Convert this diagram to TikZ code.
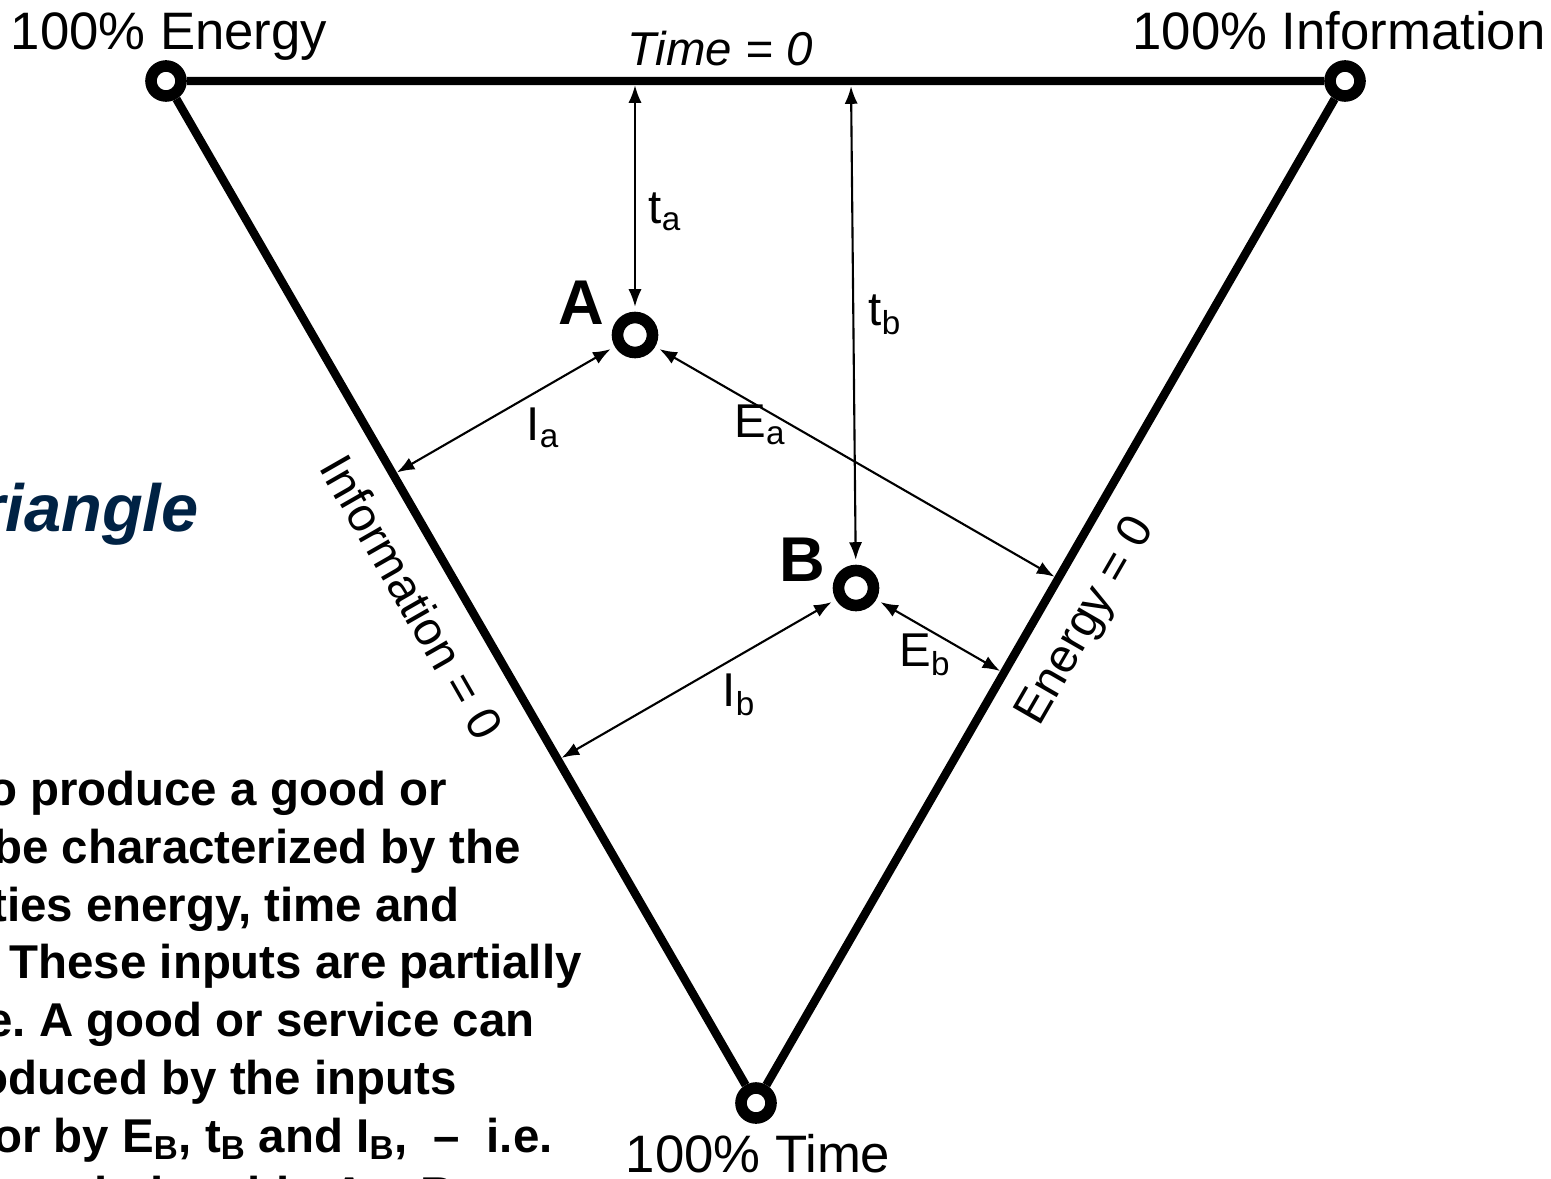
\documentclass[tikz,border=0pt]{standalone}
\usepackage{fontspec}
\setmainfont{Liberation Sans}
\usepackage{xcolor}
\usetikzlibrary{arrows.meta,calc}

\definecolor{navy}{RGB}{0,34,68}

\tikzset{
  corner/.style={circle, draw, line width=6.6pt, fill=white, minimum size=0.6cm, inner sep=0pt},
  point/.style={circle, draw, line width=6.6pt, fill=white, minimum size=0.7cm, inner sep=0pt},
  side/.style={line width=4.8pt},
  dist/.style={<->, line width=1.2pt, >={Latex[length=10pt,width=7.5pt]}, shorten <=2.8pt, shorten >=2.4pt},
  lbl/.style={font=\fontsize{27}{32}\selectfont, inner sep=0pt},
  big/.style={font=\fontsize{30}{36}\selectfont, inner sep=0pt},
  note/.style={font=\fontsize{27}{33}\selectfont\bfseries\frenchspacing, inner sep=0pt, anchor=base east},
}

\begin{document}
\begin{tikzpicture}[x=0.02cm, y=-0.02cm]

\useasboundingbox (0,0) rectangle (1551,1179);

% corners of the triangle
\node[corner] (E) at (166,81) {};
\node[corner] (I) at (1345,81) {};
\node[corner] (T) at (756,1103) {};

\draw[side] (E) -- (I) -- (T) -- (E);

\node[big, anchor=base] (Elbl) at (169,50) {100\% Energy};
\node[big, anchor=base] (Ilbl) at (1339,50) {100\% Information};
\node[big, anchor=base] (Tlbl) at (758,1172) {100\% Time};

\node[lbl, anchor=base] (t0) at (720,66) {\itshape Time = 0};
\node[lbl, rotate=-60.2] (i0) at (412,597) {Information = 0};
\node[lbl, rotate=60] (e0) at (1087,622) {Energy = 0};

% the two points
\node[point] (A) at (635,335) {};
\node[point] (B) at (856,588) {};
\node[font=\fontsize{36}{40}\selectfont\bfseries, inner sep=0pt] (Albl) at (581,303) {A};
\node[font=\fontsize{36}{40}\selectfont\bfseries, inner sep=0pt] (Blbl) at (802,560) {B};

\coordinate (tbtop) at (851,82);

\draw[dist] (A) -- ($(E)!(A)!(I)$);
\draw[dist] (A) -- ($(E)!(A)!(T)$);
\draw[dist] (A) -- ($(I)!(A)!(T)$);
\draw[dist] (B) -- (tbtop);
\draw[dist] (B) -- ($(E)!(B)!(T)$);
\draw[dist] (B) -- ($(I)!(B)!(T)$);

\node[lbl] (ta) at (665,212) {t\textsubscript{a}};
\node[lbl] (tb) at (885,315) {t\textsubscript{b}};
\node[lbl] (Ia) at (543,428) {I\textsubscript{a}};
\node[lbl] (Ea) at (760,425) {E\textsubscript{a}};
\node[lbl] (Ib) at (739,695) {I\textsubscript{b}};
\node[lbl] (Eb) at (925,655) {E\textsubscript{b}};

% title and text, cut by the page edge
\node[font=\fontsize{38}{44}\selectfont\bfseries\itshape, text=navy, inner sep=0pt, anchor=base east] (title) at (199,531) {Triangle};

\node[note] (l1) at (447,805) {to produce a good or};
\node[note] (l2) at (521,863) {be characterized by the};
\node[note] (l3) at (460,921) {quantities energy, time and};
\node[note] (l4) at (582,978) {information. These inputs are partially};
\node[note] (l5) at (535,1036) {substitutable. A good or service can};
\node[note] (l6) at (457,1094) {produced by the inputs};
\node[note] (l7) at (553,1152) {E\textsubscript{A}, t\textsubscript{A} and I\textsubscript{A} or by E\textsubscript{B}, t\textsubscript{B} and I\textsubscript{B}, ~–~ i.e.};
\node[note] (l8) at (455,1210) {relationship A \textasciitilde{} B};

\end{tikzpicture}
\end{document}
